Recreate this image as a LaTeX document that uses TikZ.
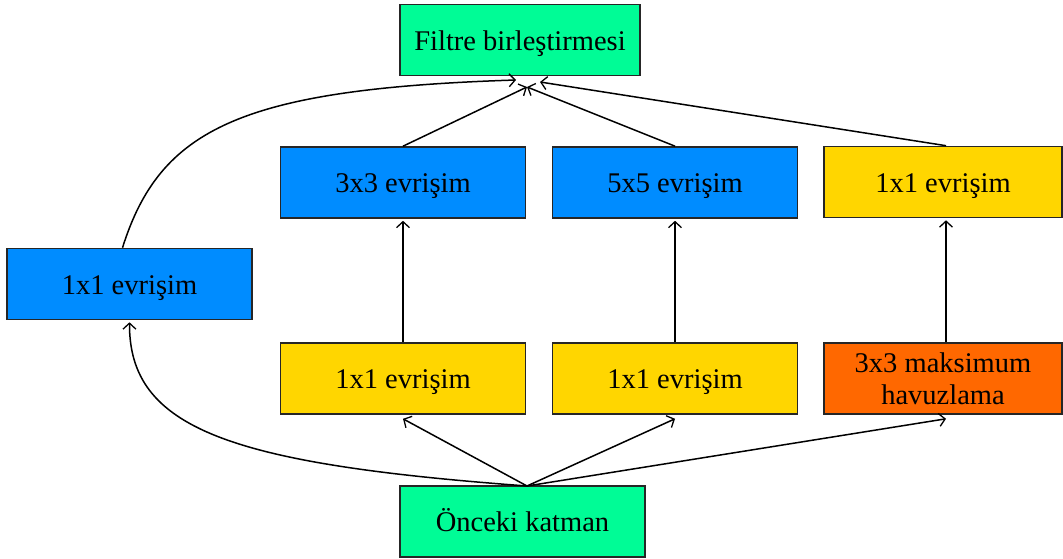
\documentclass[tikz,border=0pt]{standalone}
\usepackage{fontspec}
\setmainfont{Liberation Serif}
\usetikzlibrary{arrows.meta}
\definecolor{boxgreen}{RGB}{0,252,150}
\definecolor{boxblue}{RGB}{0,140,255}
\definecolor{boxyellow}{RGB}{255,214,0}
\definecolor{boxorange}{RGB}{255,104,0}
\begin{document}
\begin{tikzpicture}[x=1pt,y=1pt,
  block/.style={draw=black!85,line width=1.6pt,minimum width=245pt,minimum height=71pt,
    inner sep=0pt,align=center,font=\fontsize{28.5}{32}\selectfont},
  oneline/.style={block,text height=27pt,text depth=6pt},
  link/.style={line width=1.5pt,-{Straight Barb[length=6pt,width=13pt,line width=1.3pt]}}]
\useasboundingbox (0,0) rectangle (1063,559);
% top and bottom
\node[oneline,fill=boxgreen,minimum width=240pt] (concat) at (520,519) {Filtre birleştirmesi};
\node[oneline,fill=boxgreen] (prev) at (522.5,37.5) {Önceki katman};
% left branch
\node[oneline,fill=boxblue] (c1) at (129.5,275) {1x1 evrişim};
% upper row
\node[oneline,fill=boxblue] (c3) at (403,376.5) {3x3 evrişim};
\node[oneline,fill=boxblue] (c5) at (675,376.5) {5x5 evrişim};
\node[oneline,fill=boxyellow,minimum width=238pt] (cp) at (943,377) {1x1 evrişim};
% lower row
\node[oneline,fill=boxyellow] (r3) at (403,180.5) {1x1 evrişim};
\node[oneline,fill=boxyellow] (r5) at (675,180.5) {1x1 evrişim};
\node[block,fill=boxorange,minimum width=238pt] (pool) at (943,180.5) {3x3 maksimum\\havuzlama};
% merge points under the concatenation box
\coordinate (inA) at (516,479);
\coordinate (inB) at (527,472);
\coordinate (inC) at (540,477);
\coordinate (out) at (527,73);
% inputs from the previous layer
\draw[link] (out) .. controls (230,95) and (129,130) .. ([yshift=-2pt]c1.south);
\draw[link] (out) -- ([yshift=-4pt]r3.south);
\draw[link] (out) -- ([yshift=-4pt]r5.south);
\draw[link] (out) -- ([xshift=3pt,yshift=-4pt]pool.south);
% reductions into the larger convolutions
\draw[link] (r3.north) -- ([yshift=-2pt]c3.south);
\draw[link] (r5.north) -- ([yshift=-2pt]c5.south);
\draw[link] ([xshift=3pt]pool.north) -- ([xshift=3pt,yshift=-2pt]cp.south);
% outputs into the concatenation
\draw[link] ([xshift=-7pt]c1.north) .. controls (160,430) and (240,470) .. (inA);
\draw[link] (c3.north) -- (inB);
\draw[link] (c5.north) -- (inB);
\draw[link] ([xshift=3pt]cp.north) -- (inC);
\end{tikzpicture}
\end{document}
